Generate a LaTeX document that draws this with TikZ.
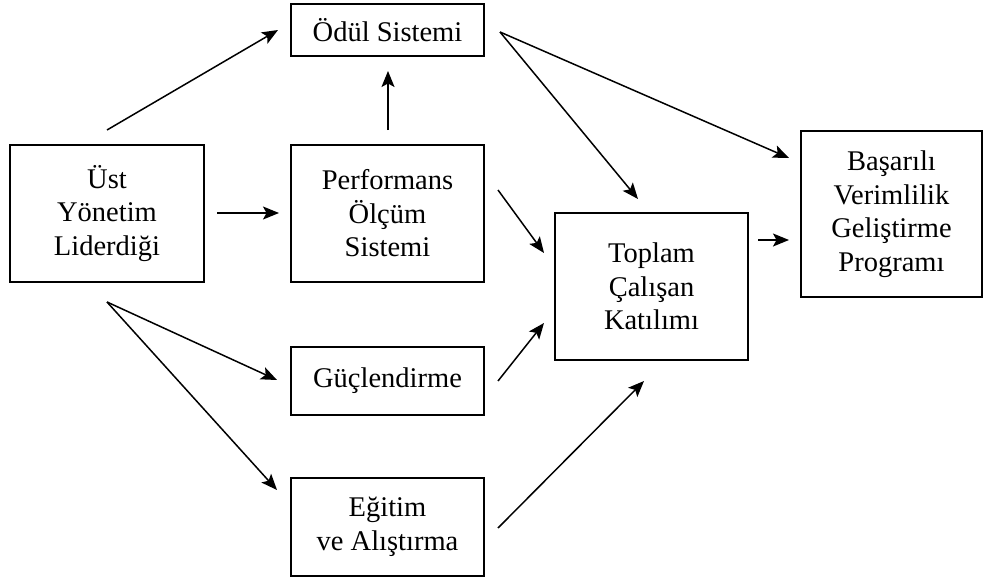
\documentclass[tikz,border=0pt]{standalone}
\usepackage{fontspec}
\setmainfont{Liberation Serif}
\usetikzlibrary{arrows.meta}
\begin{document}
\begin{tikzpicture}[x=1pt,y=-1pt,
  box/.style={draw, line width=1.2pt, align=center, inner sep=0pt,
    font=\fontsize{28.5}{33.5}\selectfont},
  arr/.style={line width=1.5pt, -{Stealth[length=16pt,width=13pt,inset=3.5pt]}}]
\useasboundingbox (0,0) rectangle (983,578);
\node[box, minimum width=194pt, minimum height=137pt] (ust) at (107,213.5) {Üst\\Yönetim\\Liderdiği};
\node[box, minimum width=193pt, minimum height=52pt] (odul) at (387.5,30) {Ödül Sistemi};
\node[box, minimum width=193pt, minimum height=137pt] (perf) at (387.5,213.5) {Performans\\Ölçüm\\Sistemi};
\node[box, minimum width=193pt, minimum height=68pt] (guc) at (387.5,381) {Güçlendirme};
\node[box, minimum width=193pt, minimum height=98pt] (egit) at (387.5,527) {Eğitim\\ve Alıştırma};
\node[box, minimum width=193pt, minimum height=147pt] (top) at (651.5,286.5) {Toplam\\Çalışan\\Katılımı};
\node[box, minimum width=181pt, minimum height=166pt] (bas) at (891.5,214) {Başarılı\\Verimlilik\\Geliştirme\\Programı};
% connector end points
\coordinate (a1) at (107,130); \coordinate (a2) at (278,30);
\coordinate (b1) at (217,213); \coordinate (b2) at (279,213);
\coordinate (c1) at (388,130); \coordinate (c2) at (388,71);
\coordinate (d0) at (500,32);
\coordinate (d1) at (638,199); \coordinate (d2) at (789,158);
\coordinate (e1) at (498,190); \coordinate (e2) at (544,253);
\coordinate (f1) at (498,381); \coordinate (f2) at (544,323);
\coordinate (g1) at (498,528); \coordinate (g2) at (644,381);
\coordinate (h0) at (107,302);
\coordinate (h1) at (277,380); \coordinate (h2) at (277,490);
\coordinate (i1) at (758,240); \coordinate (i2) at (789,240);
\draw[arr] (a1) -- (a2);
\draw[arr] (b1) -- (b2);
\draw[arr] (c1) -- (c2);
\draw[arr] (d0) -- (d1);
\draw[arr] (d0) -- (d2);
\draw[arr] (e1) -- (e2);
\draw[arr] (f1) -- (f2);
\draw[arr] (g1) -- (g2);
\draw[arr] (h0) -- (h1);
\draw[arr] (h0) -- (h2);
\draw[arr] (i1) -- (i2);
\end{tikzpicture}
\end{document}
